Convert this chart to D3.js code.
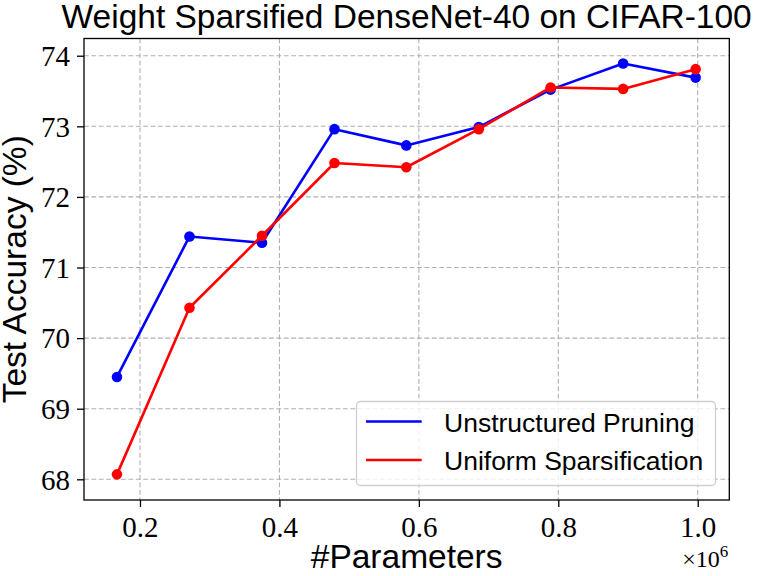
<!DOCTYPE html>
<html>
<head>
<meta charset="utf-8">
<script src="https://cdn.jsdelivr.net/npm/d3@7"></script>
<style>
  body { margin: 0; background: #fff; }
  svg { display: block; }
</style>
</head>
<body>
<svg id="chart"></svg>
<script>
// parameter counts (x) and test accuracies (%)
const params = [167000, 271000, 375000, 479000, 582000, 686000, 789000, 893000, 997000];
const unstructured = [69.45, 71.44, 71.35, 72.96, 72.73, 72.99, 73.52, 73.89, 73.69];
const uniform = [68.07, 70.43, 71.45, 72.48, 72.42, 72.96, 73.55, 73.53, 73.81];
const xTicks = [200000, 400000, 600000, 800000, 1000000];
const yTicks = [68, 69, 70, 71, 72, 73, 74];
const seriesNames = ["Unstructured Pruning", "Uniform Sparsification"];
const seriesColors = ["#0000ff", "#ff0000"];

const width = 761, height = 576;
const margin = {left: 84, right: 31.7, top: 38.5, bottom: 76};
const sans = "'Liberation Sans', Arial, Helvetica, sans-serif";
const serif = "'Liberation Serif', 'Times New Roman', serif";

const svg = d3.select("#chart")
    .attr("width", width)
    .attr("height", height);

const x = d3.scaleLinear()
    .domain([119700, 1045300])
    .range([margin.left, width - margin.right]);

const y = d3.scaleLinear()
    .domain([67.707, 74.244])
    .range([height - margin.bottom, margin.top]);

// Grid
const grid = svg.append("g").attr("class", "grid");
grid.selectAll(".vgrid")
    .data(xTicks)
    .enter()
    .append("line")
    .attr("x1", d => x(d)).attr("x2", d => x(d))
    .attr("y1", margin.top).attr("y2", height - margin.bottom)
    .attr("stroke", "#b0b0b0")
    .attr("stroke-width", 1.1)
    .attr("stroke-dasharray", "4.8 2.6");
grid.selectAll(".hgrid")
    .data(yTicks)
    .enter()
    .append("line")
    .attr("x1", margin.left).attr("x2", width - margin.right)
    .attr("y1", d => y(d)).attr("y2", d => y(d))
    .attr("stroke", "#b0b0b0")
    .attr("stroke-width", 1.1)
    .attr("stroke-dasharray", "4.8 2.6");

// Series: line then markers, blue first so red sits on top
const line = d3.line()
    .x((d, i) => x(params[i]))
    .y(d => y(d));

[unstructured, uniform].forEach((vals, k) => {
    const g = svg.append("g").attr("class", "series");
    g.append("path")
        .datum(vals)
        .attr("d", line)
        .attr("fill", "none")
        .attr("stroke", seriesColors[k])
        .attr("stroke-width", 2.6)
        .attr("stroke-linejoin", "round");
    g.selectAll("circle")
        .data(vals)
        .enter()
        .append("circle")
        .attr("cx", (d, i) => x(params[i]))
        .attr("cy", d => y(d))
        .attr("r", 5.3)
        .attr("fill", seriesColors[k]);
});

// Axes
const xAxis = svg.append("g")
    .attr("transform", `translate(0,${height - margin.bottom})`)
    .call(d3.axisBottom(x).tickValues(xTicks).tickSize(7).tickPadding(9)
        .tickFormat(d => (d / 1e6).toFixed(1)));
const yAxis = svg.append("g")
    .attr("transform", `translate(${margin.left},0)`)
    .call(d3.axisLeft(y).tickValues(yTicks).tickSize(7).tickPadding(7)
        .tickFormat(d3.format("d")));

[xAxis, yAxis].forEach(a => {
    a.select(".domain").remove();
    a.selectAll(".tick line").attr("stroke", "#000").attr("stroke-width", 1.3);
    a.selectAll(".tick text")
        .attr("fill", "#000")
        .style("font-family", serif)
        .style("font-size", "29px");
});
yAxis.selectAll(".tick text").attr("dy", "0.34em");
xAxis.selectAll(".tick text").attr("dy", "0.72em");

// Frame
svg.append("rect")
    .attr("x", margin.left)
    .attr("y", margin.top)
    .attr("width", width - margin.left - margin.right)
    .attr("height", height - margin.top - margin.bottom)
    .attr("fill", "none")
    .attr("stroke", "#000")
    .attr("stroke-width", 1.3);

// Offset label ×10^6
const offset = svg.append("text")
    .attr("x", width - margin.right - 1)
    .attr("y", 567)
    .attr("text-anchor", "end")
    .style("font-family", serif)
    .style("font-size", "24px")
    .attr("fill", "#000");
offset.append("tspan").text("×10");
offset.append("tspan").attr("dy", -10).style("font-size", "17px").text("6");

// Title and axis labels
svg.append("text")
    .attr("x", (margin.left + width - margin.right) / 2)
    .attr("y", 27.5)
    .attr("text-anchor", "middle")
    .style("font-family", sans)
    .style("font-size", "33.5px")
    .attr("fill", "#000")
    .text("Weight Sparsified DenseNet-40 on CIFAR-100");

svg.append("text")
    .attr("x", (margin.left + width - margin.right) / 2)
    .attr("y", 568)
    .attr("text-anchor", "middle")
    .style("font-family", sans)
    .style("font-size", "33.5px")
    .attr("fill", "#000")
    .text("#Parameters");

svg.append("text")
    .attr("transform", `translate(26,${(margin.top + height - margin.bottom) / 2}) rotate(-90)`)
    .attr("text-anchor", "middle")
    .style("font-family", sans)
    .style("font-size", "33.5px")
    .attr("fill", "#000")
    .text("Test Accuracy (%)");

// Legend
const legend = svg.append("g").attr("class", "legend");
legend.append("rect")
    .attr("x", 356.5)
    .attr("y", 401.5)
    .attr("width", 359)
    .attr("height", 84)
    .attr("rx", 4)
    .attr("fill", "#fff")
    .attr("fill-opacity", 0.8)
    .attr("stroke", "#d0d0d0")
    .attr("stroke-width", 1.3);

const rows = legend.selectAll(".row")
    .data(seriesNames)
    .enter()
    .append("g")
    .attr("transform", (d, i) => `translate(0,${421.5 + i * 38.5})`);
rows.append("line")
    .attr("x1", 366).attr("x2", 421.7)
    .attr("y1", 0).attr("y2", 0)
    .attr("stroke", (d, i) => seriesColors[i])
    .attr("stroke-width", 2.6);
rows.append("text")
    .attr("x", 444)
    .attr("y", 10)
    .style("font-family", sans)
    .style("font-size", "26.5px")
    .attr("fill", "#000")
    .text(d => d);
</script>
</body>
</html>
